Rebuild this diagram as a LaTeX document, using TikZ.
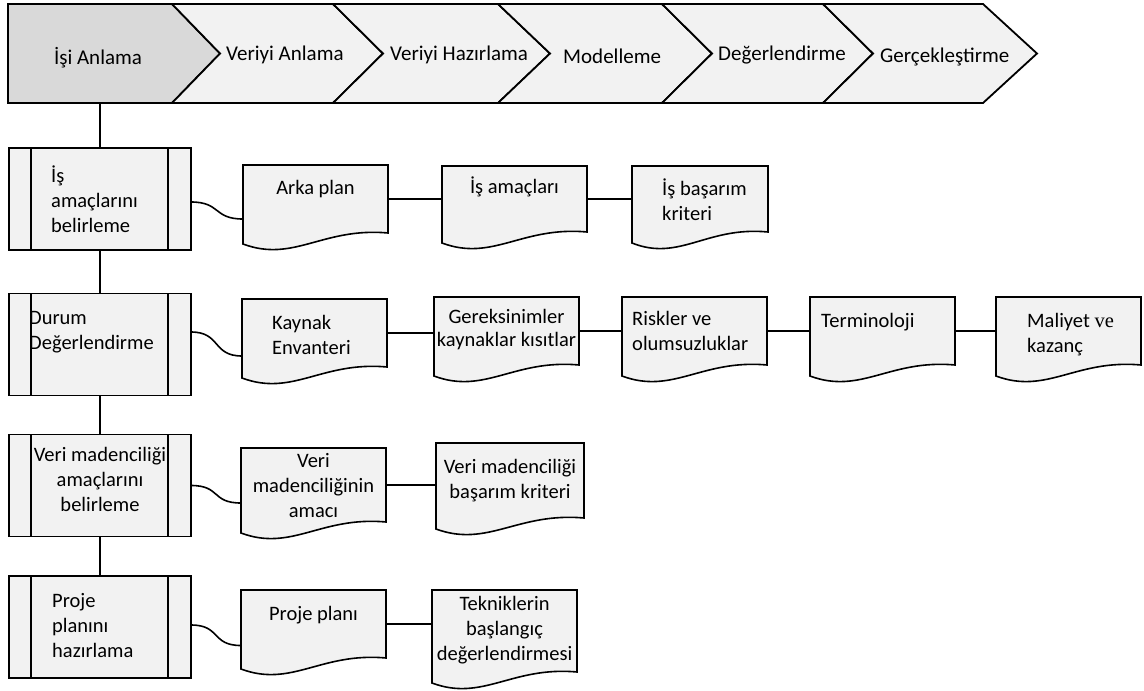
\documentclass[tikz,border=0pt]{standalone}
\usepackage{fontspec}
\setmainfont{Carlito}
\newfontfamily\timesfont{Liberation Serif}
\definecolor{boxfill}{HTML}{F2F2F2}
\definecolor{activefill}{HTML}{D9D9D9}
% strut fixing the height of a first text line
\newcommand\tp{\rule{0pt}{17pt}}
\begin{document}
\begin{tikzpicture}[x=1pt,y=-1pt,line join=miter,
  stage/.style={fill=#1,draw=black,line width=1.8pt},
  conn/.style={draw=black,line width=1.6pt},
  shapeline/.style={fill=boxfill,draw=black,line width=1.6pt},
  procbox/.style={shapeline,minimum width=182pt,minimum height=102pt,inner sep=0pt,outer sep=0pt},
  docarea/.style={draw=none,inner sep=0pt,outer sep=0pt},
  stagetxt/.style={font=\fontsize{21}{25}\selectfont,inner sep=0pt},
  txt/.style={font=\fontsize{20.5}{25}\selectfont,inner sep=0pt},
  txtl/.style={txt,align=left},
  txtc/.style={txt,align=center}]
\useasboundingbox (0,0) rectangle (1144,691);

% process box with two inner side bars
\newcommand\procbox[2]{%
  \node[procbox] (#1) at (100,#2) {};
  \draw[line width=1.6pt] ([xshift=22pt]#1.north west) -- ([xshift=22pt]#1.south west)
        ([xshift=-23pt]#1.north east) -- ([xshift=-23pt]#1.south east);}
% document shape: #2 left, #3 top, #4 right, #5 bottom of the right side
\newcommand\docshape[5]{%
  \filldraw[shapeline] (#2,#3) -- (#4,#3) -- (#4,#5)
     .. controls ({#2+0.55*(#4-#2)},{#5-6}) and ({#2+0.35*(#4-#2)},{#5+30}) .. (#2,{#5+11}) -- cycle;
  \node[docarea,minimum width={(#4-#2)*1pt},minimum height={(#5-#3)*1pt}] (#1) at ({(#2+#4)/2},{(#3+#5)/2}) {};}

% ---- phase bar ----
\filldraw[stage=activefill] (8,4) -- (172,4) -- (220,53.5) -- (172,103) -- (8,103) -- cycle;
\filldraw[stage=boxfill] (172,4) -- (333,4) -- (383,53.5) -- (333,103) -- (172,103) -- (220,53.5) -- cycle;
\filldraw[stage=boxfill] (333,4) -- (498,4) -- (550,53.5) -- (498,103) -- (333,103) -- (383,53.5) -- cycle;
\filldraw[stage=boxfill] (498,4) -- (662,4) -- (712,53.5) -- (662,103) -- (498,103) -- (550,53.5) -- cycle;
\filldraw[stage=boxfill] (662,4) -- (823,4) -- (873,53.5) -- (823,103) -- (662,103) -- (712,53.5) -- cycle;
\filldraw[stage=boxfill] (823,4) -- (983,4) -- (1037,53.5) -- (983,103) -- (823,103) -- (873,53.5) -- cycle;

\node[stagetxt,anchor=base] (s1) at (98,64) {İşi Anlama};
\node[stagetxt,anchor=base west] (s2) at (226,60) {Veriyi Anlama};
\node[stagetxt,anchor=base west] (s3) at (390,60) {Veriyi Hazırlama};
\node[stagetxt,anchor=base west] (s4) at (563,63) {Modelleme};
\node[stagetxt,anchor=base west] (s5) at (718,60) {Değerlendirme};
\node[stagetxt,anchor=base west] (s6) at (880,62) {Gerçekleştirme};
\coordinate (s1b) at (100,103);

% ---- process steps ----
\procbox{p1}{199}
\procbox{p2}{344.5}
\procbox{p3}{485.5}
\procbox{p4}{627}

\node[txtl,anchor=north west] (p1t) at (51,165) {\tp İş\\amaçlarını\\belirleme};
\node[txtl,anchor=north west] (p2t) at (29,307) {\tp Durum\\Değerlendirme};
\node[txtc,anchor=north] (p3t) at (100,444) {\tp Veri madenciliği\\amaçlarını\\belirleme};
\node[txtl,anchor=north west] (p4t) at (52,590) {\tp Proje\\planını\\hazırlama};

\draw[conn] (s1b) -- (p1.north);
\draw[conn] (p1.south) -- (p2.north);
\draw[conn] (p2.south) -- (p3.north);
\draw[conn] (p3.south) -- (p4.north);

% ---- outputs ----
\docshape{a1}{243}{165}{388}{233}
\docshape{a2}{442}{166}{587}{232}
\docshape{a3}{632}{166}{768}{232}
\docshape{b1}{242}{299}{387}{367}
\docshape{b2}{434}{297}{579}{365}
\docshape{b3}{622}{297}{767}{365}
\docshape{b4}{810}{297}{955}{365}
\docshape{b5}{996}{297}{1141}{365}
\docshape{c1}{241}{448}{386}{522}
\docshape{c2}{436}{443}{584}{518}
\docshape{d1}{241}{590}{386}{658}
\docshape{d2}{432}{590}{577}{672}

\node[txtc,anchor=north] (a1t) at (315.5,177) {\tp Arka plan};
\node[txtc,anchor=north] (a2t) at (514.5,176) {\tp İş amaçları};
\node[txtl,anchor=north west] (a3t) at (662,178) {\tp İş başarım\\kriteri};
\node[txtl,anchor=north west] (b1t) at (272,312) {\tp Kaynak\\Envanteri};
\node[txtc,anchor=north,font=\fontsize{20.5}{23.5}\selectfont] (b2t) at (506.5,306) {\tp Gereksinimler\\kaynaklar kısıtlar};
\node[txtl,anchor=north west] (b3t) at (632,308) {\tp Riskler ve\\olumsuzluklar};
\node[txtl,anchor=north west] (b4t) at (821,310) {\tp Terminoloji};
\node[txtl,anchor=north west] (b5t) at (1027,310) {\tp Maliyet {\timesfont ve}\\kazanç};
\node[txtc,anchor=north] (c1t) at (313.5,450) {\tp Veri\\madenciliğinin\\amacı};
\node[txtc,anchor=north] (c2t) at (510,456) {\tp Veri madenciliği\\başarım kriteri};
\node[txtc,anchor=north] (d1t) at (313.5,603) {\tp Proje planı};
\node[txtc,anchor=north] (d2t) at (504.5,593) {\tp Tekniklerin\\başlangıç\\değerlendirmesi};

% ---- links from steps to their outputs ----
\draw[conn] ([yshift=-3pt]p1.east) .. controls +(30,0) and +(-30,0) .. ([yshift=-20pt]a1.west);
\draw[conn] ([yshift=12.5pt]p2.east) .. controls +(30,0) and +(-30,0) .. ([yshift=-23pt]b1.west);
\draw[conn] (p3.east) .. controls +(30,0) and +(-30,0) .. ([yshift=-18pt]c1.west);
\draw[conn] ([yshift=2pt]p4.east) .. controls +(30,0) and +(-30,0) .. ([yshift=-21.5pt]d1.west);

\draw[conn] (a1.east) -- (a1.east -| a2.west);
\draw[conn] (a2.east) -- (a2.east -| a3.west);
\draw[conn] (b1.east) -- (b1.east -| b2.west);
\draw[conn] (b2.east) -- (b2.east -| b3.west);
\draw[conn] (b3.east) -- (b3.east -| b4.west);
\draw[conn] (b4.east) -- (b4.east -| b5.west);
\draw[conn] (c1.east) -- (c1.east -| c2.west);
\draw[conn] (d1.east) -- (d1.east -| d2.west);
\end{tikzpicture}
\end{document}
